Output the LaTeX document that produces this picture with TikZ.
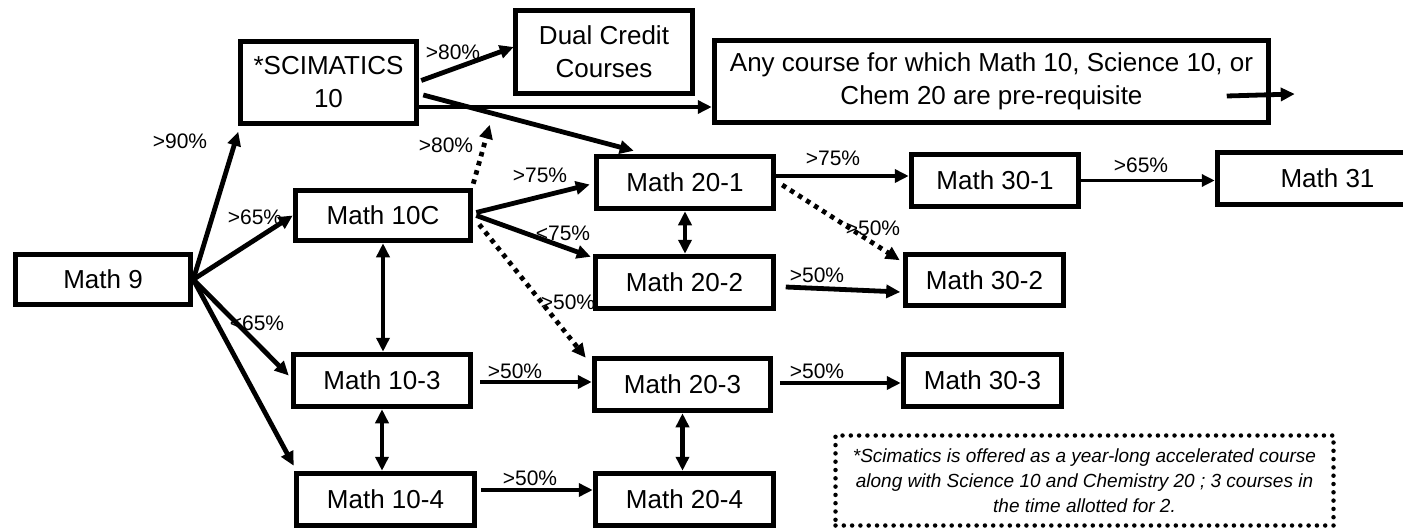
\documentclass[tikz,border=0pt]{standalone}
\usepackage{fontspec}
\setmainfont{Liberation Sans}
\usetikzlibrary{arrows.meta,calc}
\begin{document}
\begin{tikzpicture}[x=1pt,y=-1pt,
  course/.style={draw,line width=5.5pt,inner sep=0pt,align=center,
    font=\fontsize{26}{33}\selectfont},
  lbl/.style={inner sep=0pt,font=\fontsize{21}{24}\selectfont},
  conn/.style={line width=4.8pt,-{Triangle[length=14pt,width=13pt]}},
  both/.style={line width=4.8pt,{Triangle[length=14pt,width=13pt]}-{Triangle[length=14pt,width=13pt]}},
  dotconn/.style={conn,dash pattern=on 4.5pt off 5pt},
  thin/.style={line width=3.8pt,-{Triangle[length=13pt,width=12pt]}}]
\clip (0,0) rectangle (1403,532);
\fill[white] (0,0) rectangle (1403,532);
% courses
\node[course,minimum width=175pt,minimum height=50pt] (m9) at (103,279.5) {Math 9};
\node[course,minimum width=176pt,minimum height=82pt] (sci) at (328.5,82.5) {*SCIMATICS\\10};
\node[course,minimum width=175pt,minimum height=50pt] (m10c) at (383,215.5) {Math 10C};
\node[course,minimum width=177pt,minimum height=83pt] (dual) at (604,52) {Dual Credit\\Courses};
\node[course,minimum width=554pt,minimum height=82pt] (any) at (991.5,81.5) {Any course for which Math 10, Science 10, or\\Chem 20 are pre-requisite};
\node[course,minimum width=177pt,minimum height=52pt] (m201) at (685,182.5) {Math 20-1};
\node[course,minimum width=178pt,minimum height=52pt] (m202) at (684.5,282.5) {Math 20-2};
\node[course,minimum width=176pt,minimum height=52pt] (m203) at (682.5,384.5) {Math 20-3};
\node[course,minimum width=178pt,minimum height=52pt] (m204) at (684.5,499.5) {Math 20-4};
\node[course,minimum width=177pt,minimum height=52pt] (m103) at (382,380.5) {Math 10-3};
\node[course,minimum width=178pt,minimum height=52pt] (m104) at (385.5,499.5) {Math 10-4};
\node[course,minimum width=167pt,minimum height=52pt] (m301) at (995,180.5) {Math 30-1};
\node[course,minimum width=220pt,minimum height=52pt] (m31) at (1327.5,178.5) {Math 31};
\node[course,minimum width=158pt,minimum height=51pt] (m302) at (984.5,280) {Math 30-2};
\node[course,minimum width=158pt,minimum height=52pt] (m303) at (982.5,380.5) {Math 30-3};
\node[draw,line width=4.5pt,dash pattern=on 0pt off 8.3pt,line cap=round,
  minimum width=498pt,minimum height=90pt,inner sep=0pt,align=center,
  font=\fontsize{19}{25}\selectfont\itshape] (note) at (1084.5,480.5)
  {*Scimatics is offered as a year-long accelerated course\\along with Science 10 and Chemistry 20 ; 3 courses in\\the time allotted for 2.};
% labels
\node[lbl] (l90) at (180,141) {>90\%};
\node[lbl] (l65a) at (255,217) {>65\%};
\node[lbl] (l65b) at (257,323) {<65\%};
\node[lbl] (l80a) at (453,52) {>80\%};
\node[lbl] (l80b) at (446,145) {>80\%};
\node[lbl] (l75a) at (540,175) {>75\%};
\node[lbl] (l75b) at (563,233) {<75\%};
\node[lbl] (l50a) at (568,302) {>50\%};
\node[lbl] (l50b) at (515,371) {>50\%};
\node[lbl] (l50c) at (530,478) {>50\%};
\node[lbl] (l75c) at (833,158) {>75\%};
\node[lbl] (l50d) at (873,228) {>50\%};
\node[lbl] (l50e) at (817,275) {>50\%};
\node[lbl] (l50f) at (817,371) {>50\%};
\node[lbl] (l65c) at (1141,165) {>65\%};
% connectors from Math 9
\draw[conn] (m9.east) -- ($(sci.south west)+(0.5,5.5)$);
\draw[conn] (m9.east) -- (m10c.west);
\draw[conn] (m9.east) -- ($(m103.west)+(-2,-5)$);
\draw[conn] (m9.east) -- ($(m104.north west)+(0,-5)$);
% from Scimatics
\draw[conn] ($(sci.east)+(2,-2)$) -- ($(dual.west)+(1,-5)$);
\draw[conn] ($(sci.east)+(0,24.5)$) -- ($(any.west)+(0,25.5)$);
\draw[conn] ($(sci.east)+(4,12.5)$) -- ($(m201.north west)+(40,-3)$);
% free arrow inside "any" box
\coordinate (anyA) at ($(any.east)+(-44.5,14.5)$);
\coordinate (anyB) at ($(any.east)+(23.5,12.5)$);
\draw[conn] (anyA) -- (anyB);
% from Math 10C
\draw[dotconn] ($(m10c.north east)+(0,-4)$) -- ($(sci.south east)+(70.5,-1.5)$);
\draw[conn] ($(m10c.east)+(3,-3)$) -- ($(m201.west)+(-4,2)$);
\draw[conn] ($(m10c.east)+(3,0)$) -- ($(m202.north west)+(-2,3)$);
\draw[dotconn] ($(m10c.east)+(6,9)$) -- ($(m203.north west)+(-6,2)$);
\draw[both] (m10c.south) -- (m10c.south |- m103.north);
\draw[both] (m103.south) -- (m103.south |- m104.north);
\draw[conn] ($(m103.east)+(7,1.5)$) coordinate (a103) -- (m203.west |- a103);
\draw[conn] ($(m104.east)+(4,-9.5)$) coordinate (a104) -- (m204.west |- a104);
% level 20
\draw[both] (m201.south) -- (m201.south |- m202.north);
\draw[both] (m203.south) -- (m203.south |- m204.north);
\draw[conn] ($(m201.east)+(0,-6.5)$) coordinate (a201) -- (m301.west |- a201);
\draw[dotconn] ($(m201.east)+(6,2.5)$) -- ($(m302.north west)+(-3,8.5)$);
\draw[conn] ($(m202.east)+(9.5,4.5)$) -- ($(m302.west)+(-2.5,12)$);
\draw[conn] ($(m203.east)+(6.5,-1.5)$) coordinate (a203) -- (m303.west |- a203);
\draw[thin] (m301.east) -- (m31.west |- m301.east);
\end{tikzpicture}
\end{document}
